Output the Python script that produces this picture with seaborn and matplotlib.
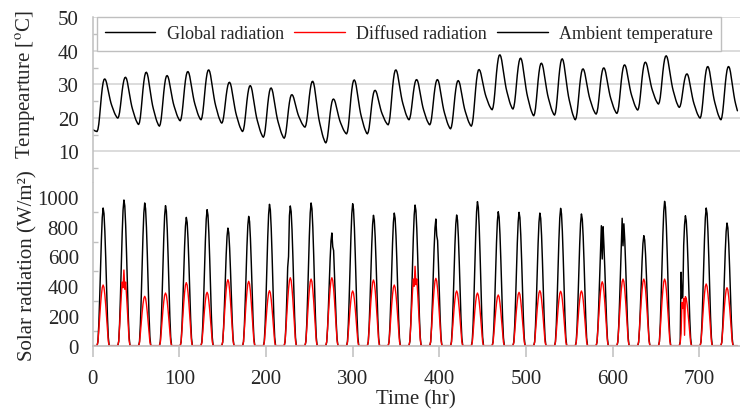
import numpy as np
import matplotlib
matplotlib.use("Agg")
import matplotlib.pyplot as plt
import seaborn as sns

# ---- data (31 days, hourly) ----
n_days = 31

# daily peak of global radiation (W/m2), day 0..30
glob_peak = [926, 980, 960, 942, 863, 915, 791, 870, 951, 940, 960, 758, 955, 877, 892,
             946, 852, 879, 969, 901, 897, 892, 924, 886, 807, 857, 740, 971, 874, 926, 825]
# daily peak of diffused radiation (W/m2)
diff_peak = [408, 509, 332, 354, 424, 359, 444, 433, 370, 457, 448, 457, 368, 442, 408,
             534, 453, 368, 354, 341, 359, 370, 366, 368, 430, 448, 448, 448, 330, 415, 390]
# daily max / min of ambient temperature (C)
temp_max = [31.6, 32.1, 33.6, 32.6, 33.8, 34.3, 30.6, 29.6, 28.9, 26.9, 30.9, 25.6, 31.3, 28.2, 34.3,
            31.4, 31.4, 31.1, 34.4, 38.8, 37.8, 36.3, 37.6, 34.6, 34.9, 35.8, 36.6, 38.5, 33.1, 35.3, 35.3]
temp_min = [15.9, 19.9, 18.0, 17.5, 19.1, 19.4, 18.4, 15.9, 14.2, 13.9, 17.2, 12.5, 15.2, 15.2, 17.9,
            19.4, 17.9, 16.7, 17.5, 22.4, 22.6, 20.6, 20.8, 19.4, 21.1, 21.3, 22.3, 24.1, 23.1, 19.9,
            19.4, 18.8]
temp_start = 19.0

# typical hourly shape of one day (fraction of the daily range)
glob_shape = [0, 0, 0, 0, 0, 0, 0.03, 0.15, 0.34, 0.56, 0.77, 0.93,
              1.0, 0.96, 0.83, 0.64, 0.42, 0.21, 0.06, 0, 0, 0, 0, 0]
diff_shape = [0, 0, 0, 0, 0, 0, 0.06, 0.25, 0.47, 0.67, 0.84, 0.96,
              1.0, 0.96, 0.84, 0.67, 0.47, 0.25, 0.07, 0, 0, 0, 0, 0]
temp_shape = [0.2, 0.14, 0.09, 0.05, 0.015, 0.0, 0.04, 0.14, 0.3, 0.49, 0.67, 0.82,
              0.93, 0.99, 1.0, 0.97, 0.9, 0.8, 0.69, 0.58, 0.48, 0.39, 0.32, 0.26]

# irregular readings (cloudy hours)
glob_spike_hr = [226, 277, 278, 397, 587, 588, 589, 611, 612, 613, 679, 680, 681]
glob_spike_val = [600, 665, 640, 740, 807, 583, 800, 857, 672, 820, 494, 320, 330]
diff_spike_hr = [35, 37, 371, 373, 680, 681, 682, 683, 684]
diff_spike_val = [390, 380, 400, 410, 290, 250, 320, 70, 330]

# ---- hourly series ----
hrs = np.arange(n_days * 24 + 1)
glob = np.zeros(len(hrs))
diff = np.zeros(len(hrs))
temp = np.zeros(len(hrs))
for t in hrs:
    d, h = divmod(t, 24)
    if d < n_days:
        glob[t] = glob_peak[d] * glob_shape[h]
        diff[t] = diff_peak[d] * diff_shape[h]
    if h <= 5:
        top = temp_max[d - 1] if d > 0 else temp_start
        bot = temp_min[d]
    elif h <= 14:
        top, bot = temp_max[d], temp_min[d]
    else:
        top, bot = temp_max[d], temp_min[d + 1]
    temp[t] = bot + (top - bot) * temp_shape[h]
glob[glob_spike_hr] = glob_spike_val
diff[diff_spike_hr] = diff_spike_val

# ---- style ----
sns.set_theme(style="white")
plt.rcParams["font.family"] = ["Liberation Serif", "DejaVu Serif"]
plt.rcParams["mathtext.fontset"] = "stix"
gray = "#bfbfbf"

fig = plt.figure(figsize=(7.4, 4.14), dpi=100)
ax_t = fig.add_axes([0.1253, 0.5585, 0.8747, 0.3973])
ax_b = fig.add_axes([0.1253, 0.1626, 0.8747, 0.3932])

sns.lineplot(x=hrs, y=glob, color="black", lw=1.05, ax=ax_b, legend=False)
sns.lineplot(x=hrs, y=diff, color="#ff0000", lw=1.0, ax=ax_b, legend=False)
sns.lineplot(x=hrs, y=temp, color="black", lw=1.05, ax=ax_t, legend=False)

for ax in (ax_t, ax_b):
    ax.set_xlim(0, 747)
    for s in ("top", "right", "bottom"):
        ax.spines[s].set_visible(False)
    ax.spines["left"].set_color(gray)
    ax.spines["left"].set_linewidth(1.1)

# top panel
ax_t.set_ylim(0.9, 50)
ax_t.set_yticks([10, 20, 30, 40, 50])
ax_t.set_yticks([5, 15, 25, 35, 45], minor=True)
ax_t.yaxis.grid(True, color="#d9d9d9", lw=1.3)
ax_t.set_axisbelow(True)
ax_t.set_xticks([])
ax_t.tick_params(axis="y", which="major", length=0, pad=10, labelsize=15)
ax_t.tick_params(axis="y", which="minor", direction="in", length=3.5, width=1, color=gray, left=True)
ax_t.set_xlabel("")
ax_t.set_ylabel("Tempearture [$^{\\rm o}$C]", fontsize=15)
ax_t.yaxis.set_label_coords(-0.085, 0.595)

# bottom panel
ax_b.spines["bottom"].set_visible(True)
ax_b.spines["bottom"].set_color(gray)
ax_b.set_ylim(0, 1095)
ax_b.set_yticks(range(0, 1001, 200))
ax_b.set_yticks(range(100, 1000, 200), minor=True)
ax_b.set_xticks(range(0, 701, 100))
ax_b.tick_params(axis="y", which="major", length=0, pad=10, labelsize=15)
ax_b.tick_params(axis="y", which="minor", direction="in", length=3.5, width=1, color=gray, left=True)
ax_b.tick_params(axis="x", which="major", direction="out", length=8, width=1.1, color=gray,
                 pad=9, labelsize=15, bottom=True)
ax_b.set_xlabel("Time (hr)", fontsize=15, labelpad=1)
ax_b.set_ylabel("Solar radiation (W/m²)", fontsize=15)
ax_b.yaxis.set_label_coords(-0.085, 0.496)

handles = [ax_b.lines[0], ax_b.lines[1], ax_t.lines[0]]
labels = ["Global radiation", "Diffused radiation", "Ambient temperature"]
leg = ax_t.legend(handles, labels, loc="upper left", bbox_to_anchor=(0.0062, 1.0),
                  ncol=3, fontsize=13, frameon=True, fancybox=False, framealpha=1,
                  edgecolor=gray, borderaxespad=0, borderpad=0.45, handlelength=2.8,
                  handletextpad=0.65, columnspacing=0.55)
leg.get_frame().set_linewidth(1.0)

fig.savefig("out.png", dpi=100)
